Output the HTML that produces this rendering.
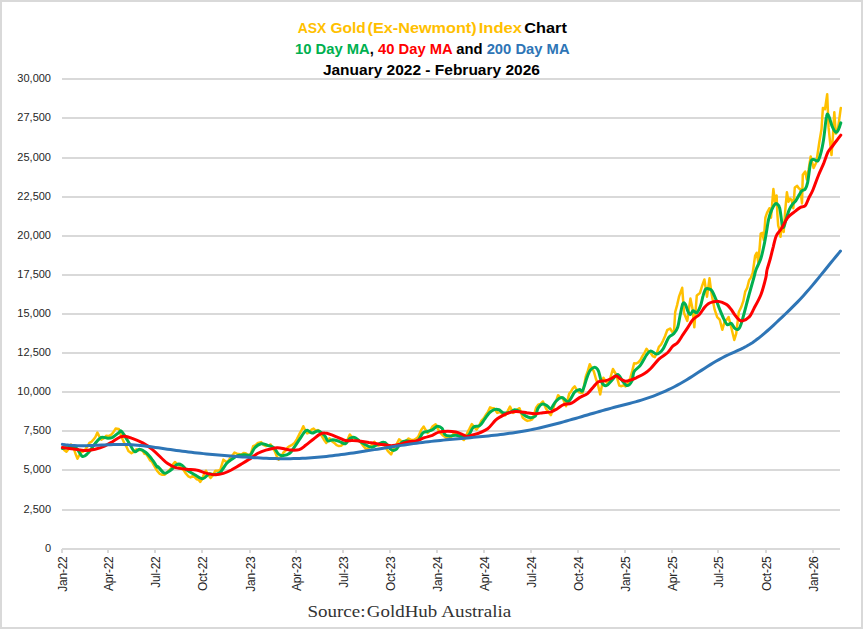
<!DOCTYPE html>
<html><head><meta charset="utf-8"><style>
html,body{margin:0;padding:0;background:#fff;width:863px;height:629px;overflow:hidden;position:relative}
.yl{font-family:"Liberation Sans",sans-serif;font-size:11px;fill:#262626}
.xl{font-family:"Liberation Sans",sans-serif;font-size:12px;letter-spacing:-0.25px;fill:#262626}
.t{font-family:"Liberation Sans",sans-serif;font-size:14.5px;font-weight:bold}
.src{font-family:"Liberation Serif",serif;font-size:17.5px;fill:#333}
</style></head><body>
<svg width="863" height="629" viewBox="0 0 863 629" style="position:absolute;left:0;top:0">
<rect x="0" y="0" width="863" height="629" fill="#fff"/>
<rect x="1" y="1" width="861" height="627" fill="none" stroke="#d9d9d9" stroke-width="2"/>
<rect x="62" y="548" width="778" height="2" fill="#d9d9d9"/>
<text x="51" y="552.3" text-anchor="end" class="yl">0</text>
<rect x="62" y="509" width="778" height="2" fill="#d9d9d9"/>
<text x="51" y="513.3" text-anchor="end" class="yl">2,500</text>
<rect x="62" y="469" width="778" height="2" fill="#d9d9d9"/>
<text x="51" y="473.3" text-anchor="end" class="yl">5,000</text>
<rect x="62" y="430" width="778" height="2" fill="#d9d9d9"/>
<text x="51" y="434.3" text-anchor="end" class="yl">7,500</text>
<rect x="62" y="391" width="778" height="2" fill="#d9d9d9"/>
<text x="51" y="395.3" text-anchor="end" class="yl">10,000</text>
<rect x="62" y="352" width="778" height="2" fill="#d9d9d9"/>
<text x="51" y="356.3" text-anchor="end" class="yl">12,500</text>
<rect x="62" y="313" width="778" height="2" fill="#d9d9d9"/>
<text x="51" y="317.3" text-anchor="end" class="yl">15,000</text>
<rect x="62" y="274" width="778" height="2" fill="#d9d9d9"/>
<text x="51" y="278.3" text-anchor="end" class="yl">17,500</text>
<rect x="62" y="235" width="778" height="2" fill="#d9d9d9"/>
<text x="51" y="239.3" text-anchor="end" class="yl">20,000</text>
<rect x="62" y="196" width="778" height="2" fill="#d9d9d9"/>
<text x="51" y="200.3" text-anchor="end" class="yl">22,500</text>
<rect x="62" y="157" width="778" height="2" fill="#d9d9d9"/>
<text x="51" y="161.3" text-anchor="end" class="yl">25,000</text>
<rect x="62" y="117" width="778" height="2" fill="#d9d9d9"/>
<text x="51" y="121.3" text-anchor="end" class="yl">27,500</text>
<rect x="62" y="78" width="778" height="2" fill="#d9d9d9"/>
<text x="51" y="82.3" text-anchor="end" class="yl">30,000</text>
<rect x="61" y="549" width="2" height="4" fill="#d9d9d9"/>
<text transform="translate(66.60,556.5) rotate(-90)" text-anchor="end" class="xl">Jan-22</text>
<rect x="107" y="549" width="2" height="4" fill="#d9d9d9"/>
<text transform="translate(112.60,556.5) rotate(-90)" text-anchor="end" class="xl">Apr-22</text>
<rect x="154" y="549" width="2" height="4" fill="#d9d9d9"/>
<text transform="translate(159.60,556.5) rotate(-90)" text-anchor="end" class="xl">Jul-22</text>
<rect x="201" y="549" width="2" height="4" fill="#d9d9d9"/>
<text transform="translate(206.60,556.5) rotate(-90)" text-anchor="end" class="xl">Oct-22</text>
<rect x="249" y="549" width="2" height="4" fill="#d9d9d9"/>
<text transform="translate(254.60,556.5) rotate(-90)" text-anchor="end" class="xl">Jan-23</text>
<rect x="295" y="549" width="2" height="4" fill="#d9d9d9"/>
<text transform="translate(300.60,556.5) rotate(-90)" text-anchor="end" class="xl">Apr-23</text>
<rect x="342" y="549" width="2" height="4" fill="#d9d9d9"/>
<text transform="translate(347.60,556.5) rotate(-90)" text-anchor="end" class="xl">Jul-23</text>
<rect x="389" y="549" width="2" height="4" fill="#d9d9d9"/>
<text transform="translate(394.60,556.5) rotate(-90)" text-anchor="end" class="xl">Oct-23</text>
<rect x="436" y="549" width="2" height="4" fill="#d9d9d9"/>
<text transform="translate(441.60,556.5) rotate(-90)" text-anchor="end" class="xl">Jan-24</text>
<rect x="483" y="549" width="2" height="4" fill="#d9d9d9"/>
<text transform="translate(488.60,556.5) rotate(-90)" text-anchor="end" class="xl">Apr-24</text>
<rect x="530" y="549" width="2" height="4" fill="#d9d9d9"/>
<text transform="translate(535.60,556.5) rotate(-90)" text-anchor="end" class="xl">Jul-24</text>
<rect x="577" y="549" width="2" height="4" fill="#d9d9d9"/>
<text transform="translate(582.60,556.5) rotate(-90)" text-anchor="end" class="xl">Oct-24</text>
<rect x="624" y="549" width="2" height="4" fill="#d9d9d9"/>
<text transform="translate(629.60,556.5) rotate(-90)" text-anchor="end" class="xl">Jan-25</text>
<rect x="671" y="549" width="2" height="4" fill="#d9d9d9"/>
<text transform="translate(676.60,556.5) rotate(-90)" text-anchor="end" class="xl">Apr-25</text>
<rect x="717" y="549" width="2" height="4" fill="#d9d9d9"/>
<text transform="translate(722.60,556.5) rotate(-90)" text-anchor="end" class="xl">Jul-25</text>
<rect x="765" y="549" width="2" height="4" fill="#d9d9d9"/>
<text transform="translate(770.60,556.5) rotate(-90)" text-anchor="end" class="xl">Oct-25</text>
<rect x="812" y="549" width="2" height="4" fill="#d9d9d9"/>
<text transform="translate(817.60,556.5) rotate(-90)" text-anchor="end" class="xl">Jan-26</text>
<path d="M62.4,447.7 L64.4,450.3 L66.4,451.7 L68.7,448.9 L71.1,444.5 L73.5,447.7 L75.9,454.8 L77.5,458.8 L80.7,452.5 L83.1,451.6 L85.4,449.3 L87.4,446.5 L89.4,442.9 L91.4,441.8 L93.4,439.7 L95.4,437.0 L97.4,432.6 L99.3,436.4 L101.3,439.7 L103.7,438.5 L106.1,435.8 L108.5,436.1 L110.9,435.0 L113.3,432.4 L115.6,428.6 L118.8,428.9 L120.8,434.8 L122.8,439.7 L124.7,443.9 L126.5,446.7 L128.4,450.9 L131.5,453.3 L133.9,451.8 L136.3,449.3 L138.4,450.4 L140.6,449.7 L142.7,450.9 L144.5,453.9 L146.4,454.3 L148.2,457.2 L150.1,460.5 L151.9,461.6 L153.8,465.2 L157.0,470.7 L159.8,473.9 L162.2,474.7 L164.5,474.7 L166.9,472.7 L169.3,470.0 L171.2,468.0 L173.0,464.4 L174.9,462.0 L176.9,463.9 L178.8,465.2 L181.2,468.2 L183.6,470.0 L186.0,473.7 L188.4,476.3 L190.5,477.4 L192.6,476.2 L194.7,477.1 L196.6,479.3 L198.5,479.7 L200.3,481.9 L202.2,478.6 L204.0,474.2 L205.9,470.7 L208.3,474.7 L210.6,477.9 L213.0,475.0 L215.4,470.7 L217.8,470.7 L220.2,470.0 L223.4,459.6 L225.3,461.3 L227.3,462.0 L229.1,459.9 L230.9,456.4 L232.7,455.2 L234.5,452.5 L236.9,453.7 L239.3,454.1 L241.4,454.6 L243.5,452.9 L245.6,453.3 L248.0,454.9 L250.4,454.8 L253.2,446.1 L255.6,445.2 L257.9,442.9 L261.1,442.1 L263.5,444.9 L265.9,446.1 L268.3,445.6 L270.7,444.5 L272.7,448.3 L274.6,450.9 L276.6,455.8 L278.6,459.6 L281.0,456.9 L283.4,452.5 L285.5,450.8 L287.6,447.6 L289.7,446.1 L292.1,444.8 L294.5,442.9 L296.9,439.1 L299.3,434.2 L301.3,430.7 L303.3,426.2 L305.2,430.2 L307.2,433.4 L309.4,432.6 L311.5,429.7 L313.6,428.6 L315.7,430.6 L317.8,430.1 L320.0,431.8 L321.9,436.4 L323.9,439.7 L326.3,442.9 L329.5,438.2 L331.9,441.2 L334.3,442.9 L336.6,445.2 L339.0,446.1 L341.1,445.7 L343.3,444.0 L345.4,443.7 L347.6,439.5 L349.8,434.5 L352.2,437.0 L354.5,438.5 L356.7,440.1 L358.8,440.3 L360.9,442.5 L363.3,446.0 L365.7,448.8 L368.1,448.3 L370.4,446.4 L372.4,444.5 L374.4,441.7 L376.4,444.5 L378.4,445.6 L380.8,444.7 L383.2,442.5 L385.5,447.2 L387.9,451.2 L391.1,454.4 L394.3,447.2 L396.7,444.1 L399.1,439.3 L401.4,441.3 L403.8,441.7 L406.2,440.9 L408.6,438.5 L411.0,439.9 L413.4,440.1 L415.7,438.9 L418.1,436.9 L421.3,429.7 L423.7,426.6 L425.7,430.1 L427.7,432.9 L430.1,430.6 L432.4,426.6 L435.6,424.2 L438.0,429.2 L440.4,432.9 L442.6,435.2 L444.8,436.8 L447.2,438.4 L449.5,438.4 L451.9,436.3 L454.3,432.8 L456.7,435.0 L459.1,436.0 L461.5,438.5 L463.8,440.0 L465.7,436.8 L467.6,432.1 L469.4,428.8 L471.8,424.1 L474.2,427.1 L476.6,429.6 L479.0,426.1 L481.3,420.9 L483.7,418.3 L486.1,414.5 L488.1,411.6 L490.1,407.4 L492.1,408.2 L494.1,408.2 L497.2,412.9 L500.4,412.1 L502.8,414.5 L505.2,415.3 L507.6,411.2 L510.0,406.6 L513.1,412.9 L515.5,411.4 L517.9,409.0 L519.5,408.2 L522.7,417.7 L525.1,419.6 L527.4,420.9 L529.8,420.4 L532.2,419.3 L534.2,414.2 L536.2,407.4 L538.2,404.7 L540.6,403.8 L542.9,401.5 L546.1,408.7 L548.5,412.4 L550.9,415.1 L554.1,405.5 L556.1,400.9 L558.1,395.2 L560.4,397.6 L562.8,398.4 L566.0,406.3 L569.2,393.6 L571.0,391.7 L572.9,388.2 L574.7,386.4 L576.7,389.9 L578.7,392.0 L580.7,392.9 L582.7,392.8 L585.9,376.1 L587.9,370.7 L589.8,364.2 L591.8,368.5 L593.8,371.3 L595.8,378.5 L597.8,384.1 L600.2,394.4 L603.4,377.7 L605.7,381.3 L608.1,384.1 L610.5,377.4 L612.9,369.0 L616.1,374.5 L619.3,385.6 L621.4,386.2 L623.5,385.3 L625.6,386.4 L628.0,383.0 L630.4,377.7 L632.3,370.9 L634.1,363.3 L636.2,363.5 L638.3,362.3 L640.3,360.2 L642.4,356.1 L644.5,352.8 L646.5,348.8 L648.6,351.8 L650.7,353.0 L652.7,356.1 L654.8,357.1 L656.9,352.8 L658.9,346.8 L661.0,344.7 L663.1,340.6 L665.1,336.0 L667.2,330.2 L670.1,328.5 L672.0,331.7 L673.9,333.6 L675.2,312.0 L677.1,305.1 L679.0,296.7 L682.2,287.8 L684.1,313.3 L687.3,320.9 L690.4,298.6 L692.4,308.2 L694.3,327.3 L696.8,295.4 L700.0,292.9 L701.9,286.5 L704.4,279.5 L707.0,296.7 L709.5,278.3 L711.4,292.9 L714.6,309.4 L717.2,317.1 L719.7,319.6 L722.3,329.8 L724.8,320.9 L726.7,319.7 L728.6,317.1 L731.2,327.3 L734.3,340.0 L736.2,333.6 L738.8,312.0 L741.3,306.9 L743.3,301.2 L745.2,291.7 L747.1,288.2 L749.1,280.2 L750.9,277.6 L752.7,273.0 L755.1,255.9 L756.7,252.7 L758.3,262.2 L759.9,244.7 L760.7,233.6 L762.3,232.8 L763.8,240.0 L765.4,217.7 L767.0,212.9 L769.4,208.2 L771.0,217.7 L772.6,198.6 L773.4,189.1 L775.0,201.8 L776.6,195.4 L777.4,214.5 L778.2,225.6 L779.7,230.4 L780.5,236.8 L782.1,222.5 L783.7,232.0 L785.3,209.7 L786.9,192.3 L788.5,201.8 L790.1,198.6 L791.7,200.2 L793.3,208.2 L794.8,187.5 L797.2,185.9 L798.8,188.3 L800.4,189.1 L802.0,203.4 L802.8,174.8 L805.2,171.6 L806.8,179.5 L808.7,169.2 L810.7,156.5 L813.6,168.0 L816.4,162.3 L819.3,142.2 L821.5,129.3 L822.9,107.9 L825.0,109.3 L827.2,94.3 L828.6,127.9 L831.5,155.1 L832.9,136.5 L834.3,112.2 L835.8,133.6 L837.9,129.3 L840.8,107.9" fill="none" stroke="#ffc000" stroke-width="2.5" stroke-linejoin="round" stroke-linecap="round"/>
<path d="M62.4,448.5 C63.3,448.3 65.7,447.5 67.9,447.4 C70.2,447.2 73.5,446.2 75.9,447.7 C78.3,449.2 80.3,455.5 82.3,456.4 C84.2,457.4 85.7,455.4 87.8,453.3 C89.9,451.1 92.7,446.4 95.0,443.7 C97.2,441.1 99.2,438.3 101.3,437.4 C103.5,436.4 105.8,438.2 107.7,438.2 C109.5,438.2 110.6,438.3 112.5,437.4 C114.3,436.4 117.4,433.7 118.8,432.6 C120.3,431.5 120.1,430.3 121.2,431.0 C122.3,431.7 123.7,434.3 125.2,436.6 C126.6,438.8 128.4,442.0 130.0,444.5 C131.5,447.0 133.1,450.9 134.7,451.7 C136.3,452.5 137.6,449.2 139.5,449.3 C141.3,449.4 143.7,450.7 145.9,452.5 C148.0,454.2 150.4,457.2 152.2,459.6 C154.1,462.0 156.0,465.6 157.0,466.8 C158.0,468.0 156.9,465.7 158.2,466.8 C159.4,467.8 162.4,472.6 164.5,473.1 C166.7,473.7 168.8,471.4 170.9,470.0 C173.0,468.5 175.4,465.2 177.3,464.4 C179.1,463.6 180.4,464.3 182.0,465.2 C183.6,466.1 184.7,468.4 186.8,470.0 C188.9,471.5 192.1,473.3 194.7,474.7 C197.4,476.2 200.3,478.8 202.7,478.7 C205.1,478.6 207.2,474.6 209.1,473.9 C210.9,473.3 212.0,475.0 213.8,474.7 C215.7,474.5 218.1,474.2 220.2,472.3 C222.3,470.5 224.7,465.7 226.5,463.6 C228.4,461.5 229.5,460.9 231.3,459.6 C233.2,458.3 235.6,456.4 237.7,455.6 C239.8,454.8 241.9,455.0 244.0,454.8 C246.1,454.7 248.6,456.0 250.4,454.8 C252.2,453.7 253.0,449.5 254.8,447.7 C256.6,445.8 259.0,444.1 261.1,443.7 C263.2,443.3 265.4,444.6 267.5,445.3 C269.6,446.0 272.0,446.2 273.8,447.7 C275.7,449.2 277.0,452.7 278.6,454.1 C280.2,455.4 281.5,455.8 283.4,455.6 C285.2,455.5 287.9,454.7 289.7,453.3 C291.6,451.8 292.9,449.2 294.5,446.9 C296.1,444.6 297.7,442.1 299.3,439.7 C300.9,437.4 302.7,434.2 304.1,432.6 C305.4,431.0 305.9,430.1 307.2,430.2 C308.6,430.3 310.1,432.9 312.0,433.1 C313.9,433.2 316.2,430.6 318.4,431.0 C320.5,431.5 323.1,434.1 324.7,435.8 C326.3,437.4 326.6,440.4 327.9,441.0 C329.2,441.7 330.8,439.7 332.7,439.7 C334.5,439.8 336.9,440.7 339.0,441.3 C341.1,442.0 343.6,444.2 345.4,443.7 C347.2,443.2 348.2,439.5 349.8,438.5 C351.3,437.4 352.9,437.0 354.5,437.4 C356.1,437.8 357.5,439.6 359.3,440.9 C361.2,442.1 363.5,443.8 365.7,444.8 C367.8,445.9 369.9,447.4 372.0,447.2 C374.1,447.1 376.3,444.8 378.4,444.1 C380.5,443.3 382.6,441.5 384.7,442.5 C386.9,443.4 389.3,448.4 391.1,449.6 C393.0,450.8 394.3,450.7 395.9,449.6 C397.5,448.6 399.1,444.7 400.6,443.3 C402.2,441.8 403.6,441.1 405.4,440.9 C407.3,440.6 409.7,441.8 411.8,441.7 C413.9,441.5 416.3,441.5 418.1,440.1 C420.0,438.6 421.3,434.4 422.9,432.9 C424.5,431.5 426.1,431.9 427.7,431.3 C429.3,430.8 430.9,430.6 432.4,429.7 C434.0,428.9 435.6,426.5 437.2,426.2 C438.8,426.0 440.7,426.8 442.0,428.2 C443.2,429.5 443.5,433.1 444.8,434.4 C446.0,435.7 447.7,435.8 449.5,436.0 C451.4,436.1 453.5,435.1 455.9,435.2 C458.3,435.3 461.7,436.8 463.8,436.8 C466.0,436.8 467.0,436.8 468.6,435.2 C470.2,433.6 471.5,428.8 473.4,427.2 C475.2,425.6 477.9,427.0 479.7,425.6 C481.6,424.3 482.9,421.4 484.5,419.3 C486.1,417.2 487.7,414.5 489.3,412.9 C490.9,411.3 492.5,410.3 494.1,409.7 C495.6,409.2 497.2,409.2 498.8,409.7 C500.4,410.3 501.7,412.5 503.6,412.9 C505.4,413.3 508.1,412.7 510.0,412.1 C511.8,411.6 513.1,409.9 514.7,409.7 C516.3,409.6 517.6,410.3 519.5,411.3 C521.3,412.4 524.0,415.0 525.9,416.1 C527.7,417.2 529.0,417.7 530.6,417.7 C532.2,417.7 534.1,417.7 535.4,416.1 C536.6,414.5 536.9,409.9 538.2,407.9 C539.4,405.9 541.4,404.2 542.9,403.9 C544.5,403.7 546.4,405.5 547.7,406.3 C549.0,407.1 549.6,409.5 550.9,408.7 C552.2,407.9 553.8,403.4 555.7,401.5 C557.5,399.7 559.9,397.6 562.0,397.6 C564.1,397.6 566.3,402.5 568.4,401.5 C570.5,400.6 572.9,394.0 574.7,392.0 C576.6,390.0 578.2,389.9 579.5,389.6 C580.8,389.4 581.4,392.7 582.7,390.4 C584.0,388.2 586.1,379.5 587.5,376.1 C588.8,372.7 589.3,371.2 590.6,369.7 C592.0,368.3 594.1,367.1 595.4,367.4 C596.7,367.6 597.5,368.8 598.6,371.3 C599.7,373.9 600.4,380.1 601.8,382.5 C603.1,384.8 605.0,385.9 606.5,385.6 C608.1,385.4 609.5,382.7 611.3,380.9 C613.2,379.0 615.8,374.5 617.7,374.5 C619.5,374.5 620.9,379.0 622.4,380.9 C624.0,382.7 625.6,385.6 627.2,385.6 C628.8,385.6 630.8,383.2 632.0,380.9 C633.1,378.5 632.7,374.2 634.1,371.6 C635.5,369.0 638.3,368.1 640.3,365.4 C642.4,362.6 644.8,357.5 646.5,355.0 C648.3,352.6 648.9,351.1 650.7,350.9 C652.4,350.7 654.8,354.4 656.9,354.0 C658.9,353.7 661.1,351.6 663.1,348.8 C665.1,346.1 667.0,340.0 668.8,337.4 C670.6,334.9 672.4,335.3 673.9,333.6 C675.4,331.9 676.7,330.4 677.7,327.3 C678.8,324.1 679.4,318.5 680.3,314.5 C681.1,310.6 682.0,305.4 682.8,303.7 C683.7,302.0 684.5,303.1 685.4,304.4 C686.2,305.6 687.1,309.7 687.9,311.3 C688.7,313.0 689.6,314.6 690.4,314.5 C691.3,314.4 691.9,311.0 693.0,310.7 C694.1,310.4 695.5,313.5 696.8,312.6 C698.1,311.8 699.6,308.5 700.6,305.6 C701.7,302.8 702.3,298.2 703.2,295.4 C704.0,292.7 704.7,290.1 705.7,289.1 C706.8,288.0 708.5,288.8 709.5,289.1 C710.6,289.4 711.0,289.3 712.1,291.0 C713.1,292.7 714.6,296.2 715.9,299.3 C717.2,302.3 718.4,306.3 719.7,309.4 C721.0,312.6 722.3,315.8 723.5,318.3 C724.8,320.9 726.1,323.9 727.3,324.7 C728.6,325.6 729.9,322.8 731.2,323.4 C732.4,324.1 733.8,327.6 735.0,328.5 C736.1,329.5 737.1,330.0 738.2,329.2 C739.2,328.3 739.5,329.2 741.3,323.4 C743.2,317.7 747.0,302.1 749.1,294.5 C751.2,286.9 752.7,281.9 753.8,277.8 C755.0,273.7 754.8,273.1 755.9,270.0 C757.0,266.9 759.3,263.0 760.7,259.0 C762.0,255.1 762.9,250.6 763.8,246.3 C764.8,242.1 765.4,238.1 766.2,233.6 C767.0,229.1 767.7,223.3 768.6,219.3 C769.5,215.3 770.7,212.3 771.8,209.7 C772.9,207.2 774.0,205.1 775.0,204.2 C775.9,203.3 776.6,203.5 777.4,204.2 C778.2,204.8 779.0,204.8 779.7,208.2 C780.5,211.5 781.5,220.9 782.1,224.1 C782.8,227.2 783.1,228.0 783.7,227.2 C784.4,226.4 785.2,222.2 786.1,219.3 C787.0,216.4 788.2,212.3 789.3,209.7 C790.3,207.2 791.4,205.6 792.5,204.2 C793.5,202.7 794.6,202.5 795.6,201.0 C796.7,199.5 797.8,197.2 798.8,195.4 C799.9,193.7 800.9,191.7 802.0,190.7 C803.1,189.6 804.3,190.4 805.2,189.1 C806.1,187.8 806.6,187.2 807.6,182.7 C808.5,178.2 809.7,166.1 810.7,162.3 C811.7,158.4 812.4,159.6 813.6,159.4 C814.8,159.2 816.7,161.8 817.9,160.8 C819.1,159.9 819.8,157.2 820.7,153.7 C821.7,150.1 822.6,145.6 823.6,139.4 C824.6,133.2 825.6,120.4 826.5,116.5 C827.3,112.5 827.7,114.1 828.6,115.8 C829.6,117.4 831.0,123.7 832.2,126.5 C833.4,129.2 834.7,131.7 835.8,132.2 C836.8,132.7 837.8,130.9 838.6,129.3 C839.5,127.8 840.4,124.0 840.8,122.9" fill="none" stroke="#00b050" stroke-width="3.0" stroke-linejoin="round" stroke-linecap="round"/>
<path d="M62.4,447.4 C63.6,447.6 66.8,448.1 69.5,448.5 C72.3,448.9 76.4,449.4 79.1,449.8 C81.7,450.1 82.8,450.6 85.4,450.6 C88.1,450.5 91.8,450.0 95.0,449.3 C98.2,448.5 101.6,447.4 104.5,446.1 C107.4,444.8 109.8,443.2 112.5,441.7 C115.1,440.1 118.3,437.8 120.4,436.9 C122.5,436.0 123.3,436.0 125.2,436.2 C127.0,436.5 128.6,437.0 131.5,438.2 C134.5,439.3 139.2,441.1 142.7,442.9 C146.1,444.8 149.1,446.8 152.2,449.3 C155.3,451.8 158.8,455.6 161.4,458.0 C163.9,460.4 165.3,462.0 167.7,463.6 C170.1,465.2 172.5,466.6 175.7,467.6 C178.8,468.5 183.4,468.8 186.8,469.2 C190.2,469.6 193.2,469.3 196.3,470.0 C199.5,470.6 202.7,472.3 205.9,473.1 C209.1,473.9 212.5,474.7 215.4,474.7 C218.3,474.8 220.7,474.2 223.4,473.4 C226.0,472.7 228.4,471.5 231.3,470.0 C234.2,468.4 237.9,466.1 240.9,464.4 C243.8,462.7 245.9,461.5 248.8,459.6 C251.6,457.8 255.1,454.8 257.9,453.3 C260.8,451.7 262.7,451.0 265.9,450.1 C269.1,449.2 273.8,447.9 277.0,447.7 C280.2,447.5 282.6,448.6 285.0,449.0 C287.4,449.4 289.0,450.0 291.3,450.1 C293.7,450.2 296.9,450.4 299.3,449.6 C301.7,448.8 303.3,447.1 305.6,445.3 C308.0,443.5 311.2,440.8 313.6,439.0 C316.0,437.1 318.1,435.2 320.0,434.2 C321.8,433.2 322.9,433.0 324.7,433.1 C326.6,433.1 328.7,433.9 331.1,434.7 C333.5,435.5 336.6,436.9 339.0,437.8 C341.4,438.8 343.1,440.1 345.4,440.5 C347.7,441.0 350.4,440.4 352.9,440.6 C355.5,440.7 358.2,440.9 360.9,441.2 C363.5,441.5 366.2,442.0 368.8,442.5 C371.5,442.9 374.1,443.3 376.8,443.7 C379.4,444.1 382.1,444.5 384.7,444.8 C387.4,445.2 390.0,445.8 392.7,445.6 C395.3,445.5 398.0,444.7 400.6,444.1 C403.3,443.4 405.9,442.2 408.6,441.7 C411.2,441.1 413.9,441.5 416.5,440.9 C419.2,440.2 421.8,438.6 424.5,437.7 C427.1,436.8 430.1,436.2 432.4,435.3 C434.8,434.4 436.2,432.8 438.8,432.1 C441.4,431.4 445.1,431.2 447.9,431.2 C450.8,431.2 453.5,431.5 455.9,432.0 C458.3,432.5 460.4,433.6 462.3,434.4 C464.1,435.1 465.4,436.3 467.0,436.5 C468.6,436.6 469.7,435.8 471.8,435.2 C473.9,434.6 477.1,433.9 479.7,432.8 C482.4,431.7 485.0,430.9 487.7,428.8 C490.3,426.7 493.5,422.1 495.6,420.1 C497.8,418.1 498.6,418.0 500.4,416.9 C502.3,415.8 504.7,414.6 506.8,413.7 C508.9,412.8 511.0,412.0 513.1,411.7 C515.3,411.3 517.1,411.4 519.5,411.7 C521.9,411.9 524.8,412.6 527.4,412.9 C530.1,413.3 532.8,413.8 535.4,413.7 C538.0,413.7 540.4,413.0 542.9,412.7 C545.5,412.4 548.5,412.5 550.9,411.9 C553.3,411.2 555.1,409.9 557.3,408.7 C559.4,407.5 561.2,405.6 563.6,404.7 C566.0,403.8 568.9,404.3 571.6,403.1 C574.2,401.9 576.9,399.2 579.5,397.6 C582.2,396.0 585.1,395.4 587.5,393.6 C589.8,391.7 592.0,388.4 593.8,386.4 C595.7,384.5 596.7,382.6 598.6,381.7 C600.4,380.7 602.8,381.4 605.0,380.9 C607.1,380.3 609.5,379.3 611.3,378.5 C613.2,377.7 614.5,376.0 616.1,376.1 C617.7,376.2 619.3,378.4 620.9,379.3 C622.4,380.1 624.0,381.1 625.6,381.2 C627.2,381.3 628.6,380.7 630.4,380.1 C632.2,379.5 633.9,378.8 636.2,377.8 C638.5,376.7 642.1,375.2 644.5,373.6 C646.9,372.1 648.3,370.9 650.7,368.5 C653.1,366.1 656.2,361.8 658.9,359.2 C661.7,356.6 664.9,355.1 667.2,353.0 C669.5,350.8 670.9,348.1 672.6,346.3 C674.4,344.6 676.0,344.4 677.7,342.5 C679.4,340.6 681.1,337.4 682.8,334.9 C684.5,332.3 686.2,329.8 687.9,327.3 C689.6,324.7 691.1,321.7 693.0,319.6 C694.9,317.5 697.4,316.5 699.4,314.5 C701.3,312.5 703.0,309.3 704.4,307.5 C705.9,305.7 706.8,304.7 708.3,303.7 C709.7,302.8 711.9,302.2 713.3,301.8 C714.8,301.4 715.7,301.1 717.2,301.2 C718.6,301.3 720.6,301.8 722.3,302.4 C723.9,303.1 725.9,303.8 727.3,305.0 C728.8,306.2 729.9,307.7 731.2,309.4 C732.4,311.1 733.7,313.5 735.0,315.2 C736.2,316.9 737.5,318.7 738.8,319.6 C740.1,320.6 740.9,321.3 742.6,320.9 C744.3,320.5 747.2,319.2 749.1,317.1 C751.0,315.1 751.9,312.6 753.8,308.8 C755.8,305.0 759.0,299.6 761.0,294.5 C763.0,289.3 764.8,281.9 765.8,277.8 C766.8,273.7 766.3,273.1 767.0,270.0 C767.8,266.9 769.1,263.0 770.2,259.0 C771.3,255.1 772.3,250.3 773.4,246.3 C774.4,242.3 775.2,238.1 776.6,235.2 C777.9,232.3 779.5,231.7 781.3,228.8 C783.2,225.9 785.6,220.5 787.7,217.7 C789.8,214.9 791.9,213.9 794.1,212.1 C796.2,210.4 798.6,208.4 800.4,207.4 C802.3,206.3 803.8,207.4 805.2,205.8 C806.6,204.2 807.6,200.5 808.9,197.8 C810.3,195.1 811.5,193.4 813.1,189.5 C814.7,185.7 816.8,179.3 818.6,175.0 C820.3,170.7 822.0,167.5 823.6,163.7 C825.1,159.9 826.5,155.1 827.9,152.2 C829.3,149.4 830.8,148.4 832.2,146.5 C833.6,144.6 835.0,142.7 836.5,140.8 C837.9,138.9 840.1,136.0 840.8,135.1" fill="none" stroke="#ff0000" stroke-width="3" stroke-linejoin="round" stroke-linecap="round"/>
<path d="M62.4,444.38 L65.4,444.79 L68.4,445.11 L71.4,445.35 L74.4,445.52 L77.4,445.63 L80.4,445.68 L83.4,445.69 L86.4,445.65 L89.4,445.58 L92.4,445.48 L95.4,445.35 L98.4,445.22 L101.4,445.07 L104.4,444.93 L107.4,444.79 L110.4,444.66 L113.4,444.56 L116.4,444.48 L119.4,444.43 L122.4,444.43 L125.4,444.48 L128.4,444.58 L131.4,444.73 L134.4,444.94 L137.4,445.19 L140.4,445.48 L143.4,445.81 L146.4,446.17 L149.4,446.56 L152.4,446.97 L155.4,447.39 L158.4,447.83 L161.4,448.27 L164.4,448.72 L167.4,449.16 L170.4,449.60 L173.4,450.02 L176.4,450.44 L179.4,450.84 L182.4,451.22 L185.4,451.60 L188.4,451.97 L191.4,452.32 L194.4,452.66 L197.4,452.99 L200.4,453.31 L203.4,453.63 L206.4,453.93 L209.4,454.22 L212.4,454.50 L215.4,454.78 L218.4,455.05 L221.4,455.30 L224.4,455.55 L227.4,455.80 L230.4,456.03 L233.4,456.26 L236.4,456.48 L239.4,456.70 L242.4,456.91 L245.4,457.11 L248.4,457.31 L251.4,457.50 L254.4,457.68 L257.4,457.85 L260.4,458.00 L263.4,458.15 L266.4,458.28 L269.4,458.39 L272.4,458.49 L275.4,458.57 L278.4,458.63 L281.4,458.68 L284.4,458.70 L287.4,458.69 L290.4,458.67 L293.4,458.62 L296.4,458.54 L299.4,458.44 L302.4,458.31 L305.4,458.15 L308.4,457.97 L311.4,457.76 L314.4,457.53 L317.4,457.28 L320.4,457.00 L323.4,456.71 L326.4,456.40 L329.4,456.07 L332.4,455.72 L335.4,455.36 L338.4,454.98 L341.4,454.58 L344.4,454.18 L347.4,453.76 L350.4,453.33 L353.4,452.90 L356.4,452.45 L359.4,451.99 L362.4,451.53 L365.4,451.06 L368.4,450.59 L371.4,450.12 L374.4,449.64 L377.4,449.16 L380.4,448.68 L383.4,448.19 L386.4,447.72 L389.4,447.24 L392.4,446.76 L395.4,446.30 L398.4,445.83 L401.4,445.37 L404.4,444.93 L407.4,444.48 L410.4,444.05 L413.4,443.63 L416.4,443.22 L419.4,442.83 L422.4,442.44 L425.4,442.07 L428.4,441.72 L431.4,441.38 L434.4,441.05 L437.4,440.74 L440.4,440.43 L443.4,440.13 L446.4,439.84 L449.4,439.56 L452.4,439.28 L455.4,439.01 L458.4,438.74 L461.4,438.47 L464.4,438.20 L467.4,437.93 L470.4,437.66 L473.4,437.38 L476.4,437.10 L479.4,436.81 L482.4,436.52 L485.4,436.22 L488.4,435.91 L491.4,435.58 L494.4,435.25 L497.4,434.90 L500.4,434.54 L503.4,434.16 L506.4,433.77 L509.4,433.36 L512.4,432.93 L515.4,432.47 L518.4,432.00 L521.4,431.50 L524.4,430.98 L527.4,430.43 L530.4,429.86 L533.4,429.26 L536.4,428.63 L539.4,427.97 L542.4,427.28 L545.4,426.57 L548.4,425.83 L551.4,425.07 L554.4,424.29 L557.4,423.50 L560.4,422.69 L563.4,421.86 L566.4,421.02 L569.4,420.17 L572.4,419.31 L575.4,418.44 L578.4,417.57 L581.4,416.69 L584.4,415.81 L587.4,414.94 L590.4,414.06 L593.4,413.19 L596.4,412.32 L599.4,411.46 L602.4,410.61 L605.4,409.76 L608.4,408.94 L611.4,408.12 L614.4,407.32 L617.4,406.54 L620.4,405.77 L623.4,405.00 L626.4,404.23 L629.4,403.45 L632.4,402.66 L635.4,401.84 L638.4,400.99 L641.4,400.10 L644.4,399.17 L647.4,398.19 L650.4,397.15 L653.4,396.06 L656.4,394.91 L659.4,393.70 L662.4,392.43 L665.4,391.10 L668.4,389.70 L671.4,388.25 L674.4,386.72 L677.4,385.13 L680.4,383.48 L683.4,381.75 L686.4,379.95 L689.4,378.10 L692.4,376.20 L695.4,374.27 L698.4,372.33 L701.4,370.38 L704.4,368.44 L707.4,366.52 L710.4,364.64 L713.4,362.81 L716.4,361.04 L719.4,359.33 L722.4,357.71 L725.4,356.17 L728.4,354.74 L731.4,353.37 L734.4,352.03 L737.4,350.69 L740.4,349.30 L743.4,347.84 L746.4,346.27 L749.4,344.55 L752.4,342.65 L755.4,340.56 L758.4,338.30 L761.4,335.90 L764.4,333.37 L767.4,330.75 L770.4,328.05 L773.4,325.29 L776.4,322.50 L779.4,319.69 L782.4,316.87 L785.4,314.01 L788.4,311.12 L791.4,308.17 L794.4,305.17 L797.4,302.09 L800.4,298.93 L803.4,295.68 L806.4,292.33 L809.4,288.88 L812.4,285.35 L815.4,281.76 L818.4,278.11 L821.4,274.42 L824.4,270.71 L827.4,267.00 L830.4,263.29 L833.4,259.61 L836.4,255.96 L839.4,252.37 L840.5,251.07" fill="none" stroke="#2e75b6" stroke-width="3" stroke-linejoin="round" stroke-linecap="round"/>
<text x="297.8" y="33" class="t" fill="#ffc000" textLength="28.6" lengthAdjust="spacingAndGlyphs">ASX</text>
<text x="330.4" y="33" class="t" fill="#ffc000" textLength="35.3" lengthAdjust="spacingAndGlyphs">Gold</text>
<text x="367.5" y="33" class="t" fill="#ffc000" textLength="109.2" lengthAdjust="spacingAndGlyphs">(Ex-Newmont)</text>
<text x="478.7" y="33" class="t" fill="#ffc000" textLength="43.4" lengthAdjust="spacingAndGlyphs">Index</text>
<text x="524.3" y="33" class="t" fill="#000" textLength="42.6" lengthAdjust="spacingAndGlyphs">Chart</text>
<text x="432.3" y="53.7" text-anchor="middle" class="t" textLength="274.6" lengthAdjust="spacingAndGlyphs"><tspan fill="#00b050">10 Day MA</tspan><tspan fill="#000">, </tspan><tspan fill="#ff0000">40 Day MA</tspan><tspan fill="#000"> and </tspan><tspan fill="#2e75b6">200 Day MA</tspan></text>
<text x="431.4" y="74.9" text-anchor="middle" class="t" fill="#000" textLength="217" lengthAdjust="spacingAndGlyphs">January 2022 - February 2026</text>
<text x="307.5" y="617" class="src" textLength="58" lengthAdjust="spacingAndGlyphs">Source:</text>
<text x="366.8" y="617" class="src" textLength="70.5" lengthAdjust="spacingAndGlyphs">GoldHub</text>
<text x="441.3" y="617" class="src" textLength="70" lengthAdjust="spacingAndGlyphs">Australia</text>
</svg>
</body></html>
